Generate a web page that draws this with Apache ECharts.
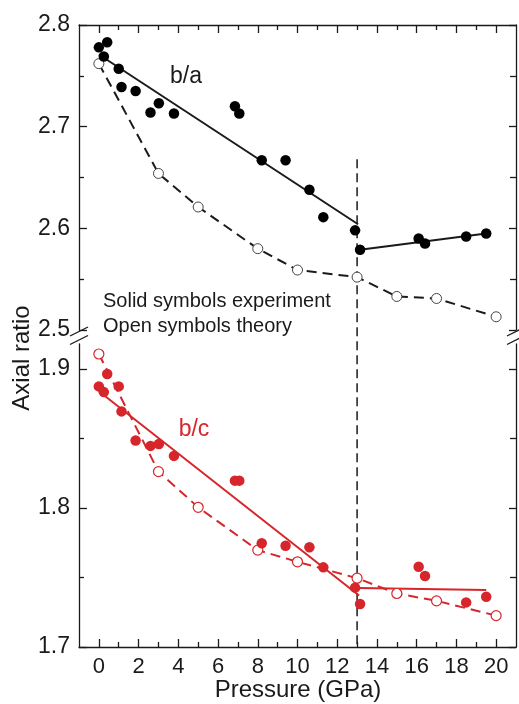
<!DOCTYPE html>
<html>
<head>
<meta charset="utf-8">
<script src="https://cdn.jsdelivr.net/npm/echarts@6/dist/echarts.min.js"></script>
<style>
  html, body { margin: 0; padding: 0; background: #fff; }
  #chart { width: 519px; height: 704px; }
</style>
</head>
<body>
<div id="chart"></div>
<script>
// Measured pressures (GPa) shared by both axial ratios
const expPressure = [0, 0.42, 0.25, 1.0, 1.14, 1.85, 2.6, 3.02, 3.78, 6.85, 7.07,
  8.2, 9.4, 10.6, 11.3, 12.9, 13.15, 16.1, 16.42, 18.49, 19.5];
// Experimental axial ratios (solid symbols)
const expBA = [2.778, 2.783, 2.769, 2.757, 2.739, 2.735, 2.714, 2.723, 2.713, 2.720, 2.713,
  2.667, 2.667, 2.638, 2.611, 2.598, 2.579, 2.590, 2.585, 2.592, 2.595];
const expBC = [1.8875, 1.8964, 1.8834, 1.8875, 1.8695, 1.8486, 1.8447, 1.8460, 1.8375, 1.8197, 1.8197,
  1.7746, 1.7729, 1.7718, 1.7573, 1.7427, 1.7309, 1.7578, 1.7511, 1.7321, 1.7362];

// Calculated axial ratios (open symbols)
const theoryPressure = [0, 3, 5, 8, 10, 13, 15, 17, 20];
const theoryBA = [2.762, 2.654, 2.621, 2.580, 2.559, 2.552, 2.533, 2.531, 2.513];
const theoryBC = [1.9108, 1.8262, 1.8005, 1.7697, 1.7613, 1.7495, 1.7385, 1.7332, 1.7226];

// Linear fits below and above the transition
const fitBALow = [[0, 2.771], [13.05, 2.604]];
const fitBAHigh = [[13.15, 2.579], [19.5, 2.595]];
const fitBCLow = [[0, 1.884], [13.1, 1.737]];
const fitBCHigh = [[13.1, 1.7425], [19.5, 1.741]];

// Transition marker
const transitionPressure = 13;
const transitionTop = 2.668;

// Tick positions
const xMajorTicks = [0, 2, 4, 6, 8, 10, 12, 14, 16, 18, 20];
const xMinorTicks = [1, 3, 5, 7, 9, 11, 13, 15, 17, 19];
const baMajorTicks = [2.5, 2.6, 2.7, 2.8];
const baMinorTicks = [2.55, 2.65, 2.75];
const bcMajorTicks = [1.7, 1.8, 1.9];
const bcMinorTicks = [1.75, 1.85];

const FONT = 'Liberation Sans, Arial, Helvetica, sans-serif';
const RED = '#d7262b';
const INK = '#1a1a1a';

const chart = echarts.init(document.getElementById('chart'), null, { renderer: 'canvas' });

const zip = (xs, ys) => xs.map((x, i) => [x, ys[i]]);

function xAxisDef(gridIndex, position, ticks, len, withLine, withLabels) {
  return {
    type: 'value', gridIndex, position, min: -1, max: 21,
    axisLine: { show: withLine, onZero: false, lineStyle: { color: INK, width: 1.3 } },
    axisTick: { show: true, inside: true, length: len, customValues: ticks,
      lineStyle: { color: INK, width: 1.3 } },
    axisLabel: withLabels
      ? { show: true, customValues: ticks, margin: 9, fontSize: 22, color: INK, fontFamily: FONT }
      : { show: false },
    splitLine: { show: false }
  };
}

function yAxisDef(gridIndex, position, min, max, ticks, len, withLine, withLabels) {
  return {
    type: 'value', gridIndex, position, min, max,
    axisLine: { show: withLine, onZero: false, lineStyle: { color: INK, width: 1.3 } },
    axisTick: { show: true, inside: true, length: len, customValues: ticks,
      lineStyle: { color: INK, width: 1.3 } },
    axisLabel: withLabels
      ? { show: true, customValues: ticks, margin: 9, fontSize: 23, color: INK, fontFamily: FONT,
          formatter: v => v.toFixed(1) }
      : { show: false },
    splitLine: { show: false }
  };
}

const BA_MIN = 2.5, BA_MAX = 2.8;
const BC_MIN = 1.7, BC_MAX = 1.918;

const option = {
  animation: false,
  backgroundColor: '#fff',
  grid: [
    { left: 79, right: 3, top: 25, height: 305 },
    { left: 79, right: 3, top: 344, height: 303 }
  ],
  xAxis: [
    xAxisDef(0, 'top', xMajorTicks, 8, true, false),
    xAxisDef(0, 'top', xMinorTicks, 5, false, false),
    xAxisDef(1, 'bottom', xMajorTicks, 8, true, true),
    xAxisDef(1, 'bottom', xMinorTicks, 5, false, false)
  ],
  yAxis: [
    yAxisDef(0, 'left', BA_MIN, BA_MAX, baMajorTicks, 8, true, true),
    yAxisDef(0, 'left', BA_MIN, BA_MAX, baMinorTicks, 5, false, false),
    yAxisDef(0, 'right', BA_MIN, BA_MAX, baMajorTicks, 7, true, false),
    yAxisDef(0, 'right', BA_MIN, BA_MAX, baMinorTicks, 6, false, false),
    yAxisDef(1, 'left', BC_MIN, BC_MAX, bcMajorTicks, 8, true, true),
    yAxisDef(1, 'left', BC_MIN, BC_MAX, bcMinorTicks, 5, false, false),
    yAxisDef(1, 'right', BC_MIN, BC_MAX, bcMajorTicks, 7, true, false),
    yAxisDef(1, 'right', BC_MIN, BC_MAX, bcMinorTicks, 6, false, false)
  ],
  series: [
    // b/a panel
    { type: 'line', xAxisIndex: 0, yAxisIndex: 0, data: fitBALow, symbol: 'none', z: 2,
      lineStyle: { color: INK, width: 2 } },
    { type: 'line', xAxisIndex: 0, yAxisIndex: 0, data: fitBAHigh, symbol: 'none', z: 2,
      lineStyle: { color: INK, width: 2 } },
    { type: 'line', xAxisIndex: 0, yAxisIndex: 0, data: zip(theoryPressure, theoryBA), z: 3,
      symbol: 'circle', symbolSize: 10, showSymbol: true,
      lineStyle: { color: INK, width: 2, type: [10, 6] },
      itemStyle: { color: '#fff', borderColor: '#444', borderWidth: 1, opacity: 1 } },
    { type: 'scatter', xAxisIndex: 0, yAxisIndex: 0, data: zip(expPressure, expBA), z: 4,
      symbol: 'circle', symbolSize: 10.5, itemStyle: { color: '#000', opacity: 1 } },
    // b/c panel
    { type: 'line', xAxisIndex: 2, yAxisIndex: 4, data: fitBCLow, symbol: 'none', z: 2,
      lineStyle: { color: RED, width: 2 } },
    { type: 'line', xAxisIndex: 2, yAxisIndex: 4, data: fitBCHigh, symbol: 'none', z: 2,
      lineStyle: { color: RED, width: 2 } },
    { type: 'line', xAxisIndex: 2, yAxisIndex: 4, data: zip(theoryPressure, theoryBC), z: 3,
      symbol: 'circle', symbolSize: 10, showSymbol: true,
      lineStyle: { color: RED, width: 2, type: [10, 6] },
      itemStyle: { color: '#fff', borderColor: RED, borderWidth: 1.2, opacity: 1 } },
    { type: 'scatter', xAxisIndex: 2, yAxisIndex: 4, data: zip(expPressure, expBC), z: 4,
      symbol: 'circle', symbolSize: 10.5, itemStyle: { color: RED, opacity: 1 } }
  ]
};

chart.setOption(option);

// Overlays drawn in pixel space derived from the axes
const topTransition = chart.convertToPixel({ xAxisIndex: 0, yAxisIndex: 0 }, [transitionPressure, transitionTop]);
const bottomTransition = chart.convertToPixel({ xAxisIndex: 2, yAxisIndex: 4 }, [transitionPressure, BC_MIN]);
const leftX = chart.convertToPixel({ xAxisIndex: 0 }, -1);
const rightX = chart.convertToPixel({ xAxisIndex: 0 }, 21);
const breakLow = chart.convertToPixel({ yAxisIndex: 0 }, BA_MIN);
const breakHigh = chart.convertToPixel({ yAxisIndex: 4 }, BC_MAX);

function breakMark(x, y) {
  return { type: 'line', z: 10, shape: { x1: x - 9, y1: y + 4.5, x2: x + 9, y2: y - 4.5 },
    style: { stroke: INK, lineWidth: 1.3 } };
}

function label(text, x, y, size, color, align) {
  return { type: 'text', x, y, z: 10,
    style: { text, fontSize: size, fontFamily: FONT, fill: color,
      textAlign: align || 'center', textVerticalAlign: 'middle' } };
}

chart.setOption({
  graphic: [
    { type: 'line', z: 1,
      shape: { x1: topTransition[0], y1: topTransition[1], x2: bottomTransition[0], y2: bottomTransition[1] },
      style: { stroke: INK, lineWidth: 1.5, lineDash: [9, 5] } },
    breakMark(leftX, breakLow + 1.5),
    breakMark(leftX, breakHigh - 4),
    breakMark(rightX, breakLow + 1.5),
    breakMark(rightX, breakHigh - 4),
    label('b/a', 186, 77, 23, INK),
    label('b/c', 194, 430, 23, RED),
    label('Solid symbols experiment', 103, 301, 20, INK, 'left'),
    label('Open symbols theory', 103, 326, 20, INK, 'left'),
    label('Pressure (GPa)', 298, 690, 24, INK),
    { type: 'text', x: 22, y: 358, rotation: Math.PI / 2, z: 10,
      style: { text: 'Axial ratio', fontSize: 24, fontFamily: FONT, fill: INK,
        textAlign: 'center', textVerticalAlign: 'middle' } }
  ]
});
</script>
</body>
</html>
